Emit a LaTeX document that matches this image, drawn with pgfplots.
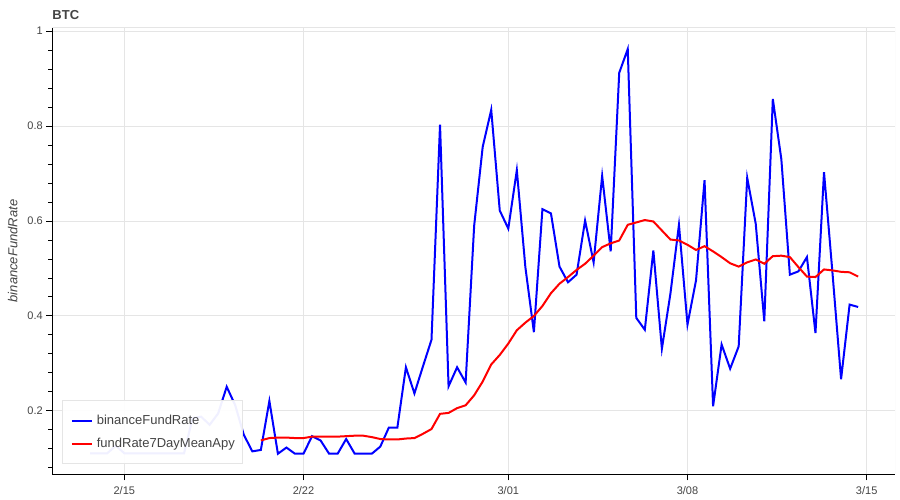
\documentclass[border=0pt]{standalone}
\usepackage{fontspec}
\setmainfont{Liberation Sans}
\usepackage{pgfplots}
\pgfplotsset{compat=1.18}
\definecolor{gridc}{HTML}{E5E5E5}
\definecolor{txt}{HTML}{444444}
\definecolor{bl}{HTML}{0000FF}
\definecolor{rd}{HTML}{FF0000}
\begin{document}
\begin{tikzpicture}
\useasboundingbox (0,0) rectangle (900bp,500bp);
\begin{axis}[
  at={(52.3bp,25.7bp)}, anchor=south west,
  scale only axis, width=842.7bp, height=446.6bp,
  xmin=-8.44, xmax=90.32, ymin=0.0667, ymax=1.007,
  axis x line*=bottom, axis y line*=left,
  axis line style={-,black,line width=1bp},
  xtick={0,21,45,66,87}, xticklabels={2/15,2/22,3/01,3/08,3/15},
  ytick={0.2,0.4,0.6,0.8,1}, yticklabels={0.2,0.4,0.6,0.8,1},
  minor ytick={0.08,0.12,0.16,0.24,0.28,0.32,0.36,0.44,0.48,0.52,0.56,0.64,0.68,0.72,0.76,0.84,0.88,0.92,0.96},
  tick align=outside, major tick length=6bp, minor tick length=4bp,
  tick style={black,line width=1bp},
  xmajorgrids, ymajorgrids, grid style={gridc,line width=1bp},
  ticklabel style={font=\fontsize{11bp}{13bp}\selectfont, text=txt},
  xticklabel style={yshift=-2.5bp},
  every axis title shift=0pt,
  title={BTC},
  title style={at={(0,1)}, anchor=base west, yshift=8.4bp, inner sep=0pt,
    font=\bfseries\fontsize{13bp}{15bp}\selectfont, text=txt},
  ylabel={binanceFundRate},
  ylabel style={at={(axis description cs:-0.0413,0.5)}, anchor=base, inner sep=0pt,
    font=\itshape\fontsize{13bp}{15bp}\selectfont, text=txt},
  legend cell align=left,
  legend image code/.code={\draw[#1] (0bp,0bp) -- (20bp,0bp);},
  legend style={at={(0.0119,0.023)}, anchor=south west, draw=gridc, line width=1bp,
    fill=white, fill opacity=0.94, draw opacity=1, text opacity=1, text=txt,
    font=\fontsize{13bp}{15bp}\selectfont,
    inner xsep=8bp, inner ysep=10bp, row sep=3bp,
    nodes={inner sep=0pt, minimum height=20bp},
    /tikz/every odd column/.append style={column sep=4bp}},
]
\addplot[bl, line width=2bp] coordinates {
(-4,0.111) (-3,0.111) (-2,0.111) (-1,0.127) (0,0.111) (1,0.111) (2,0.111) (3,0.111)
(4,0.111) (5,0.111) (6,0.111) (7,0.111) (8,0.185) (9,0.188) (10,0.171) (11,0.195)
(12,0.251) (13,0.212) (14,0.150) (15,0.115) (16,0.118) (17,0.221) (18,0.110) (19,0.123)
(20,0.110) (21,0.110) (22,0.147) (23,0.138) (24,0.110) (25,0.110) (26,0.141) (27,0.110)
(28,0.110) (29,0.110) (30,0.125) (31,0.165) (32,0.165) (33,0.292) (34,0.237) (35,0.294)
(36,0.350) (37,0.803) (38,0.252) (39,0.292) (40,0.260) (41,0.590) (42,0.756) (43,0.834)
(44,0.622) (45,0.584) (46,0.707) (47,0.503) (48,0.366) (49,0.625) (50,0.616) (51,0.504)
(52,0.471) (53,0.487) (54,0.601) (55,0.513) (56,0.695) (57,0.536) (58,0.912) (59,0.962)
(60,0.396) (61,0.371) (62,0.538) (63,0.331) (64,0.447) (65,0.592) (66,0.382) (67,0.475)
(68,0.686) (69,0.210) (70,0.340) (71,0.289) (72,0.336) (73,0.691) (74,0.594) (75,0.389)
(76,0.857) (77,0.730) (78,0.487) (79,0.494) (80,0.524) (81,0.364) (82,0.703) (83,0.489)
(84,0.267) (85,0.424) (86,0.419)
};
\addlegendentry{binanceFundRate}
\addplot[rd, line width=2bp] coordinates {
(16,0.138) (17,0.143) (18,0.144) (19,0.144) (20,0.143) (21,0.143) (22,0.146) (23,0.146)
(24,0.146) (25,0.146) (26,0.147) (27,0.148) (28,0.148) (29,0.145) (30,0.141) (31,0.140)
(32,0.140) (33,0.142) (34,0.143) (35,0.152) (36,0.162) (37,0.194) (38,0.196) (39,0.206)
(40,0.212) (41,0.233) (42,0.262) (43,0.298) (44,0.318) (45,0.342) (46,0.370) (47,0.386)
(48,0.400) (49,0.421) (50,0.448) (51,0.468) (52,0.482) (53,0.497) (54,0.510) (55,0.527)
(56,0.545) (57,0.553) (58,0.559) (59,0.592) (60,0.597) (61,0.602) (62,0.599) (63,0.580)
(64,0.561) (65,0.559) (66,0.550) (67,0.539) (68,0.547) (69,0.536) (70,0.524) (71,0.511)
(72,0.504) (73,0.513) (74,0.519) (75,0.510) (76,0.526) (77,0.527) (78,0.524) (79,0.503)
(80,0.483) (81,0.482) (82,0.498) (83,0.496) (84,0.493) (85,0.492) (86,0.483)
};
\addlegendentry{fundRate7DayMeanApy}
\draw[gridc, line width=1bp] (rel axis cs:0,1) -- (rel axis cs:1,1) -- (rel axis cs:1,0);
\end{axis}
\end{tikzpicture}
\end{document}
